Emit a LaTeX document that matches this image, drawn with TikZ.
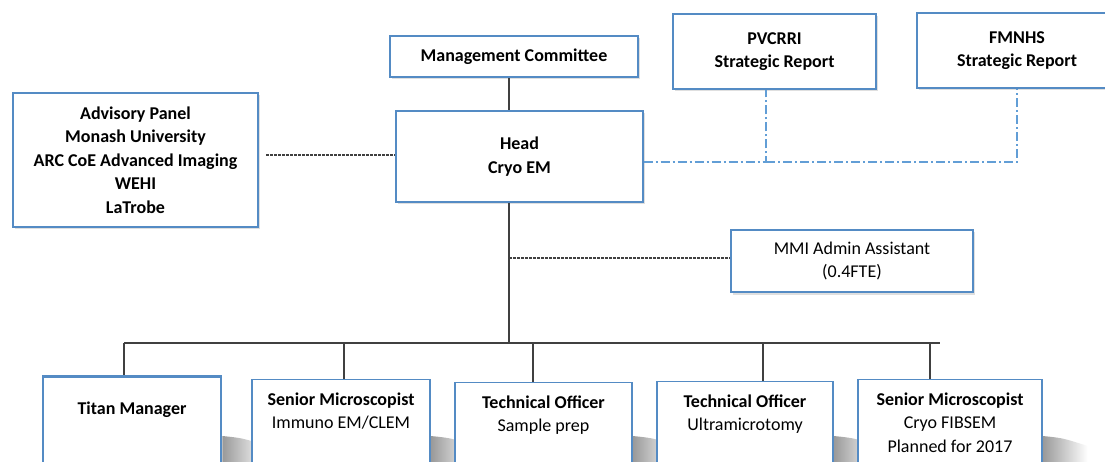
\documentclass[tikz,border=0pt]{standalone}
\usepackage{fontspec}
\setmainfont{Carlito}
\usetikzlibrary{shadows,backgrounds}
\definecolor{boxblue}{RGB}{84,139,196}
\definecolor{dashblue}{RGB}{98,158,214}
\definecolor{linegray}{RGB}{64,64,64}
\tikzset{
  box/.style={draw=boxblue, line width=1.4pt, fill=white, align=center, inner sep=0pt,
    font=\fontsize{18}{23.5}\selectfont\bfseries},
  lifted/.style={drop shadow={opacity=0.25, shadow xshift=2pt, shadow yshift=-2.5pt}},
  staffbox/.style={box, anchor=north, inner ysep=13, text depth=80},
  link/.style={draw=linegray, line width=1.6pt},
  dotlink/.style={draw=linegray, line width=1.2pt, dash pattern=on 2.5pt off 1.5pt},
  bluelink/.style={draw=dashblue, line width=1.2pt, dash pattern=on 9pt off 3pt on 2pt off 3pt}
}

\begin{document}
\begin{tikzpicture}[x=1pt,y=-1pt]
  \useasboundingbox (0,0) rectangle (1105,462);

  % Draw the upper boxes
  \node[box, lifted, line width=2.6pt, minimum width=248, minimum height=41] (committee) at (514,56.5) {Management Committee};
  \node[box, lifted, minimum width=247, minimum height=91] (head) at (519.5,156.5) {Head\\Cryo EM};
  \node[box, lifted, minimum width=203, minimum height=75] (pvcrri) at (774.5,51.5) {PVCRRI\\Strategic Report};
  \node[box, lifted, minimum width=200, minimum height=75] (fmnhs) at (1017,50.5) {FMNHS\\Strategic Report};
  \node[box, lifted, minimum width=245, minimum height=134] (advisory) at (135.5,160)
    {Advisory Panel\\Monash University\\ARC CoE Advanced Imaging\\WEHI\\LaTrobe};
  \node[box, lifted, minimum width=242, minimum height=62] (admin) at (852,261)
    {\mdseries MMI Admin Assistant\\\mdseries (0.4FTE)};

  % Draw the staff boxes
  \node[staffbox, line width=2.6pt, inner ysep=26, minimum width=178] (titan) at (132,375) {Titan Manager};
  \node[staffbox, minimum width=178] (immuno) at (341,379) {Senior Microscopist\\\mdseries Immuno EM/CLEM};
  \node[staffbox, minimum width=177] (prep) at (543.5,382) {Technical Officer\\\mdseries Sample prep};
  \node[staffbox, minimum width=176] (ultra) at (745,381) {Technical Officer\\\mdseries Ultramicrotomy};
  \node[staffbox, minimum width=184] (fibsem) at (950,379)
    {Senior Microscopist\\\mdseries Cryo FIBSEM\\\mdseries Planned for 2017};

  % Shadows under the staff boxes
  \begin{scope}[on background layer]
    \foreach \n in {titan,immuno,prep,ultra,fibsem}{
      \shade[left color=black!40, right color=white] (\n.east |- 0,436) .. controls ++(20,2) .. ++(45,10) -- ++(0,18) -- ++(-45,0) -- cycle;
    }
  \end{scope}

  % Draw the solid lines
  \coordinate (trunk) at (509,343);
  \coordinate (busleft) at (124,343);
  \coordinate (busright) at (940,343);
  \draw[link] (committee.south -| trunk) -- (head.north -| trunk);
  \draw[link] (head.south -| trunk) -- (trunk);
  \draw[link] (busleft) -- (busright);
  \foreach \n/\x in {titan/124,immuno/344,prep/533,ultra/763,fibsem/930}{
    \coordinate (drop-\n) at (\x,343);
    \draw[link] (drop-\n) -- (\n.north -| drop-\n);
  }

  % Draw the dashed lines
  \coordinate (advisoryend) at (266,155);
  \coordinate (adminjoin) at (509,258);
  \draw[dotlink] (advisoryend) -- (head.west |- advisoryend);
  \draw[dotlink] (adminjoin) -- (admin.west |- adminjoin);

  % Draw the report lines
  \coordinate (reportjoin) at (766,162);
  \draw[bluelink] (head.east |- reportjoin) -- (reportjoin) -- (pvcrri.south -| reportjoin);
  \draw[bluelink] (reportjoin) -- (fmnhs.south |- reportjoin) -- (fmnhs.south);
\end{tikzpicture}
\end{document}
